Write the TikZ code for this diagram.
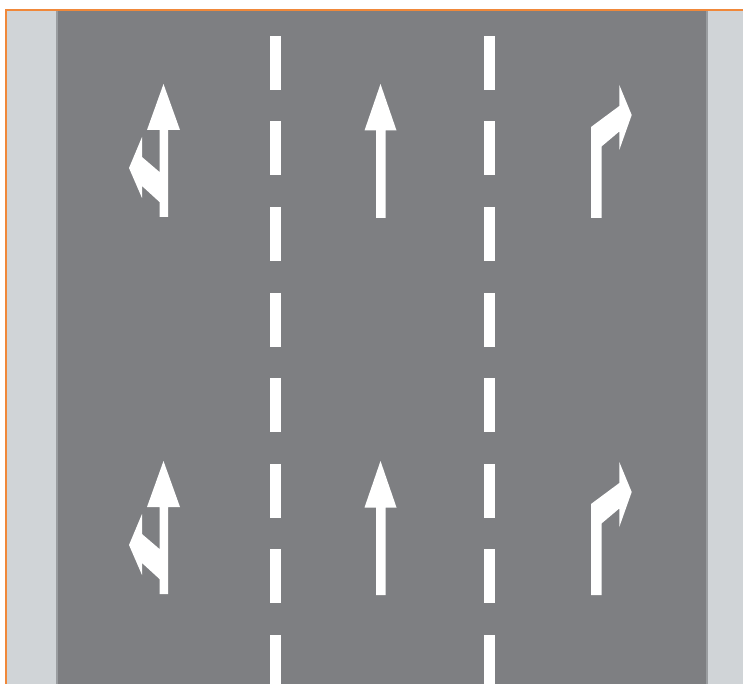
\documentclass[tikz,border=0pt]{standalone}
\usetikzlibrary{calc}
\definecolor{roadgray}{HTML}{7E7F82}
\definecolor{walkgray}{HTML}{D0D4D7}
\definecolor{edgegray}{HTML}{9A9DA0}
\definecolor{borderorange}{HTML}{F0883A}
\tikzset{
  mark white/.style={fill=white, draw=none},
  lanedash/.style={fill=white, draw=none},
}
\begin{document}
\begin{tikzpicture}[x=1pt, y=-1pt]
\useasboundingbox (0,0) rectangle (743,684);
\fill[white] (0,0) rectangle (743,684);
% sidewalks and road
\fill[walkgray] (6,10) rectangle (743,684);
\fill[roadgray] (57,10) rectangle (706.5,684);
\fill[edgegray] (56,10) rectangle (57.5,684);
\fill[edgegray] (706,10) rectangle (707.5,684);
% orange border (top and left)
\draw[borderorange, line width=2.8pt] (6,684) -- (6,10) -- (743,10);
% lane dashes
\foreach \k in {0,...,7} {
  \fill[lanedash] (269.5,{36+85.5*\k}) rectangle (280.5,{90+85.5*\k});
  \fill[lanedash] (483.5,{36+85.5*\k}) rectangle (494.5,{90+85.5*\k});
}
% arrows, two rows
\foreach \dy in {0,377} {
  \begin{scope}[yshift=-\dy pt]
    % straight + left-turn arrow
    \fill[mark white] (163.5,84) -- (180,130) -- (168,130) -- (168,217)
      -- (159.5,217) -- (159.5,202) -- (142,186) -- (142,198) -- (129,168)
      -- (142,137) -- (142,157) -- (159.5,172) -- (159.5,130) -- (147,130) -- cycle;
    % straight arrow
    \fill[mark white] (380.5,84) -- (396.5,130.5) -- (385.5,130.5) -- (385.5,218)
      -- (376,218) -- (376,130.5) -- (364.5,130.5) -- cycle;
    % right-turn arrow
    \fill[mark white] (591,218) -- (591,127) -- (619.3,106) -- (619.3,85)
      -- (631.7,115) -- (619.3,150) -- (619.3,131.5) -- (601.5,146.5)
      -- (601.5,218) -- cycle;
  \end{scope}
}
\end{tikzpicture}
\end{document}
